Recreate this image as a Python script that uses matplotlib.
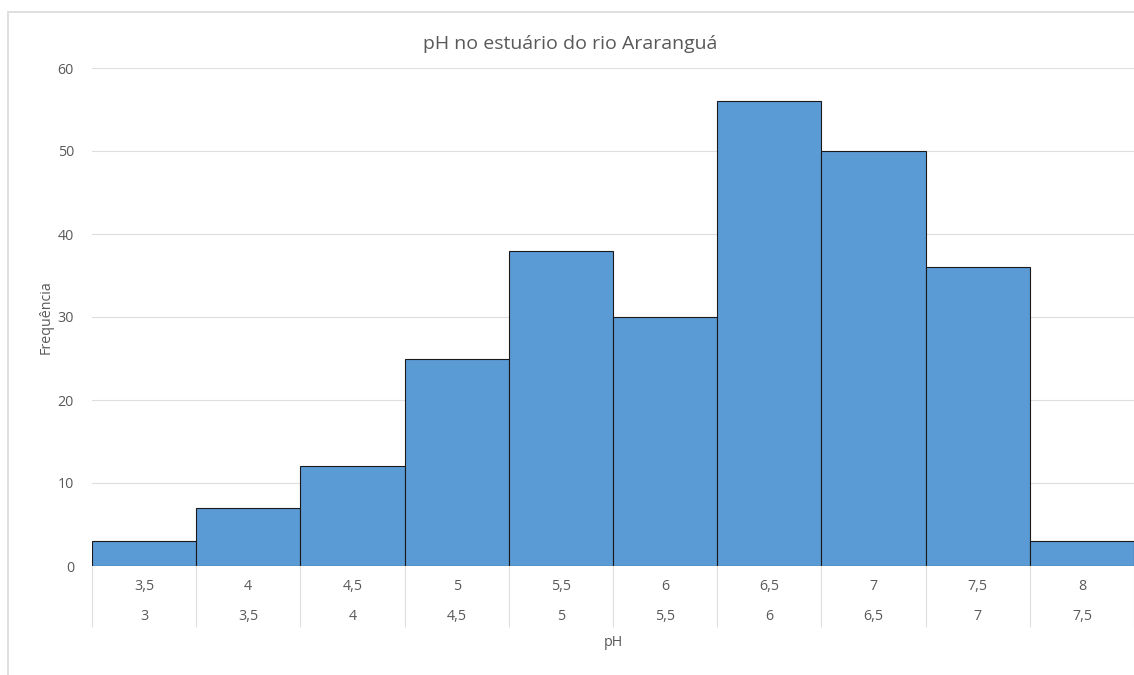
import matplotlib.pyplot as plt
from matplotlib.patches import Rectangle
from matplotlib.transforms import blended_transform_factory

# histogram bins (lower / upper bounds) and counts
lower = ["3", "3,5", "4", "4,5", "5", "5,5", "6", "6,5", "7", "7,5"]
upper = ["3,5", "4", "4,5", "5", "5,5", "6", "6,5", "7", "7,5", "8"]
freq = [3, 7, 12, 25, 38, 30, 56, 50, 36, 3]

plt.rcParams['font.family'] = ['Open Sans', 'DejaVu Sans']
grey = '#595959'
fs = 10.3

fig = plt.figure(figsize=(11.34, 6.75), dpi=100)
# chart area border (cut off on the right like the original)
fig.patches.append(Rectangle((8 / 1134, -0.01), 1.2, 1 - 12 / 675 + 0.01,
                             transform=fig.transFigure, fill=False,
                             edgecolor='#d9d9d9', linewidth=1.2))

ax = fig.add_axes([92 / 1134, 1 - 566 / 675, 1 - 92 / 1134, 498 / 675])
x = list(range(len(freq)))
ax.bar([i + 0.5 for i in x], freq, width=1.0, color='#5b9bd5',
       edgecolor='#1a1a1a', linewidth=0.8, zorder=3)

ax.set_xlim(0, len(freq))
ax.set_ylim(0, 60)
ax.set_yticks(range(0, 61, 10))
ax.yaxis.grid(True, color='#dedede', linewidth=0.8)
ax.set_axisbelow(True)
ax.tick_params(axis='y', length=0, pad=13, labelsize=fs, labelcolor=grey)
ax.set_xticks([])
for s in ax.spines.values():
    s.set_visible(False)
ax.axhline(0, color='#dedede', linewidth=0.8, zorder=1)

# two-row category labels with separators
tr = blended_transform_factory(ax.transData, ax.transAxes)
ax.vlines(range(len(freq) + 1), -61 / 498, 0, transform=tr, colors='#dedede',
          linewidth=0.8, clip_on=False)
for i in x:
    ax.text(i + 0.5, -20 / 498, upper[i], transform=tr, ha='center', va='center',
            fontsize=fs, color=grey)
    ax.text(i + 0.5, -51 / 498, lower[i], transform=tr, ha='center', va='center',
            fontsize=fs, color=grey)

fig.text(613 / 1134, 1 - 643 / 675, "pH", ha='center', va='center', fontsize=fs, color=grey)
fig.text(46 / 1134, 1 - 317 / 675, "Frequência", rotation=90, ha='center', va='center',
         fontsize=fs, color=grey)
fig.text(570 / 1134, 1 - 44 / 675, "pH no estuário do rio Araranguá", ha='center',
         va='center', fontsize=14, color=grey)

fig.savefig("out.png", dpi=100)
